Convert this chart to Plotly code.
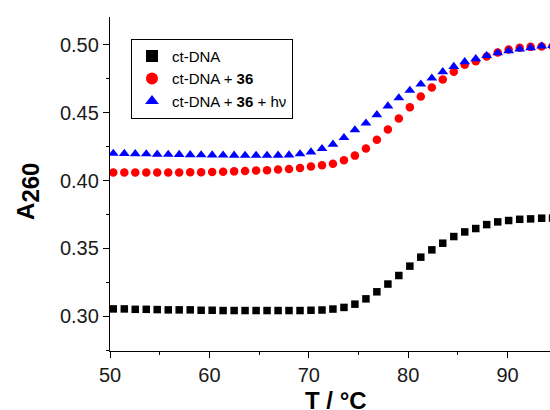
import plotly.graph_objects as go

temperature = [50.33, 51.44, 52.54, 53.65, 54.75, 55.86, 56.96, 58.07, 59.17, 60.28,
               61.38, 62.49, 63.59, 64.70, 65.80, 66.91, 68.01, 69.12, 70.22, 71.33,
               72.43, 73.54, 74.64, 75.75, 76.85, 77.96, 79.06, 80.17, 81.27, 82.38,
               83.48, 84.59, 85.69, 86.80, 87.90, 89.01, 90.11, 91.22, 92.32, 93.43, 94.53]

a_dna = [0.3055, 0.3055, 0.3052, 0.3052, 0.3050, 0.3048, 0.3048, 0.3048, 0.3045, 0.3045,
         0.3043, 0.3043, 0.3043, 0.3043, 0.3043, 0.3043, 0.3043, 0.3043, 0.3045, 0.3047,
         0.3054, 0.3066, 0.3090, 0.3129, 0.3181, 0.3238, 0.3301, 0.3370, 0.3436, 0.3490,
         0.3539, 0.3588, 0.3622, 0.3647, 0.3676, 0.3696, 0.3706, 0.3715, 0.3718, 0.3723, 0.3725]

a_dna_36 = [0.4060, 0.4060, 0.4060, 0.4060, 0.4060, 0.4060, 0.4060, 0.4061, 0.4062, 0.4064,
            0.4066, 0.4068, 0.4071, 0.4074, 0.4077, 0.4081, 0.4086, 0.4093, 0.4104, 0.4113,
            0.4124, 0.4150, 0.4184, 0.4237, 0.4301, 0.4376, 0.4458, 0.4541, 0.4620, 0.4686,
            0.4745, 0.4801, 0.4853, 0.4879, 0.4914, 0.4943, 0.4965, 0.4978, 0.4985, 0.4988, 0.4990]

a_dna_36_hv = [0.4200, 0.4199, 0.4197, 0.4196, 0.4194, 0.4193, 0.4192, 0.4190, 0.4189, 0.4188,
               0.4187, 0.4186, 0.4185, 0.4185, 0.4185, 0.4186, 0.4188, 0.4196, 0.4210, 0.4235,
               0.4267, 0.4316, 0.4373, 0.4423, 0.4485, 0.4549, 0.4609, 0.4664, 0.4710, 0.4754,
               0.4801, 0.4840, 0.4875, 0.4897, 0.4920, 0.4940, 0.4956, 0.4969, 0.4978, 0.4990, 0.4995]

series_names = ["ct-DNA", "ct-DNA + <b>36</b>", "ct-DNA + <b>36</b> + hν"]
x_ticks = [50, 60, 70, 80, 90]
y_ticks = [0.30, 0.35, 0.40, 0.45, 0.50]
y_tick_labels = ["0.30", "0.35", "0.40", "0.45", "0.50"]

FONT = "Arial, Liberation Sans, Helvetica, sans-serif"

fig = go.Figure()
fig.add_trace(go.Scatter(x=temperature, y=a_dna, mode="markers", name=series_names[0],
                         marker=dict(symbol="square", size=7.5, color="black")))
fig.add_trace(go.Scatter(x=temperature, y=a_dna_36, mode="markers", name=series_names[1],
                         marker=dict(symbol="circle", size=8.5, color="#ff0000")))
fig.add_trace(go.Scatter(x=temperature, y=a_dna_36_hv, mode="markers", name=series_names[2],
                         marker=dict(symbol="triangle-up", size=9.5, color="#0000ff")))

axis_common = dict(showline=True, linecolor="black", linewidth=1.3, mirror=False,
                   ticks="outside", ticklen=6, tickwidth=1.3, tickcolor="black",
                   showgrid=False, zeroline=False,
                   tickfont=dict(family=FONT, size=20, color="#1a1a1a"))

fig.update_xaxes(range=[50, 94.27], tickvals=x_ticks,
                 minor=dict(dtick=5, ticks="outside", ticklen=3, tickwidth=1.3, tickcolor="black"),
                 **axis_common)
fig.update_yaxes(range=[0.2745, 0.5205], tickvals=y_ticks, ticktext=y_tick_labels,
                 minor=dict(dtick=0.025, tick0=0.275, ticks="outside", ticklen=3, tickwidth=1.3, tickcolor="black"),
                 **axis_common)

fig.add_annotation(text="<b>T / °C</b>", xref="paper", yref="paper", x=0.513, y=-0.148,
                   xanchor="center", yanchor="middle", showarrow=False,
                   font=dict(family=FONT, size=24, color="black"))
fig.add_annotation(text="<b>A<sub><span style='font-size:24px'>260</span></sub></b>",
                   xref="paper", yref="paper", x=-0.185, y=0.478, textangle=-90,
                   xanchor="center", yanchor="middle", showarrow=False,
                   font=dict(family=FONT, size=24, color="black"))

fig.update_layout(
    width=550, height=410,
    margin=dict(l=110, r=0, t=17, b=59),
    plot_bgcolor="white", paper_bgcolor="white",
    showlegend=True,
    legend=dict(x=0.0477, y=0.935, xanchor="left", yanchor="top",
                bgcolor="white", bordercolor="black", borderwidth=1,
                font=dict(family=FONT, size=15, color="black"),
                tracegroupgap=0, itemsizing="constant"),
)

fig.write_html("out.html", config={"displayModeBar": False},
               post_script="document.body.style.margin='0';document.body.style.overflow='hidden';")
